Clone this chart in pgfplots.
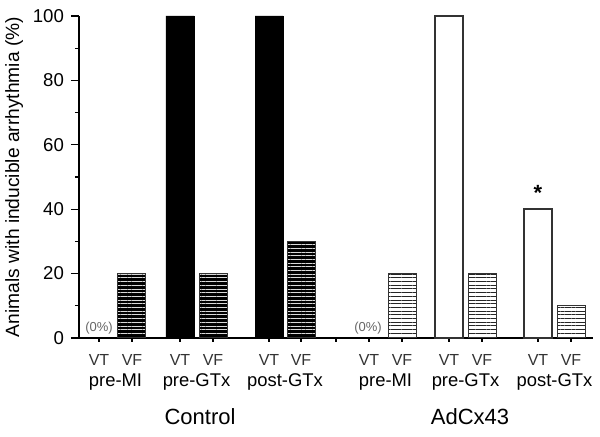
\documentclass[border=0pt]{standalone}
\usepackage{pgfplots}
\pgfplotsset{compat=1.18}
\usepackage{fontspec}
\setmainfont{Liberation Sans}
\usetikzlibrary{patterns.meta}
\definecolor{tick}{HTML}{333333}
\definecolor{zero}{HTML}{666666}

\begin{document}
\begin{tikzpicture}
\useasboundingbox (-39.5pt,-49.5pt) rectangle (260.5pt,169pt);
\begin{axis}[scale only axis,width=257pt,height=161pt,
 xmin=79,xmax=593,ymin=0,ymax=100,
 axis x line=bottom,axis y line=left,axis line style={-,line width=0.6pt},
 ybar,bar width=28,bar shift=0pt,
 ytick={0,20,...,100},minor y tick num=1,
 tick align=outside,major tick length=4pt,minor tick length=2pt,
 tick style={line width=0.6pt,black},
 xtick style={/pgfplots/major tick length=2pt},
 xtick={99,132,180,213,269,301,369,402,449,482,538,571},
 xticklabels={VT,VF,VT,VF,VT,VF,VT,VF,VT,VF,VT,VF},
 extra x ticks={336},extra x tick labels={},
 extra x tick style={/pgfplots/major tick length=5pt},
 x tick label style={font=\fontsize{8}{9}\selectfont,text=tick,yshift=-0.5pt},
 y tick label style={font=\fontsize{9.3}{10}\selectfont},
 /pgf/number format/assume math mode=true,
 ylabel={Animals with inducible arrhythmia (\%)},
 ylabel style={font=\fontsize{9.6}{10}\selectfont,yshift=-2pt},
 clip=false]
% Control VT
\addplot[fill=black,draw=black,line width=0.4pt] coordinates {(180,100)(269,100)};
% Control VF
\addplot[draw=tick,line width=0.5pt,fill=black,
 postaction={pattern={Lines[angle=0,distance=1.85pt,line width=0.45pt]},pattern color=white!70!gray}]
 coordinates {(132,20)(213,20)(301,30)};
% AdCx43 VT
\addplot[fill=white,draw=tick,line width=0.75pt] coordinates {(449,100)(538,40)};
% AdCx43 VF
\addplot[draw=tick,line width=0.5pt,
 pattern={Lines[angle=0,distance=1.85pt,line width=0.5pt]},pattern color=black!85]
 coordinates {(402,20)(482,20)(571,10)};
\node[font=\fontsize{6.5}{7}\selectfont,text=zero] at (axis cs:99,3) {(0\%)};
\node[font=\fontsize{6.5}{7}\selectfont,text=zero] at (axis cs:368,3) {(0\%)};
\node[font=\bfseries\fontsize{11}{12}\selectfont] at (axis cs:538,45) {*};
\foreach \x/\t in {115.5/pre-MI,196.5/pre-GTx,285/post-GTx,385.5/pre-MI,465.5/pre-GTx,554.5/post-GTx}
 {\edef\tmp{\noexpand\node[font=\noexpand\fontsize{9.2}{10}\noexpand\selectfont] at (axis cs:\x,0) [yshift=-22pt] {\t};}\tmp}
\node[font=\fontsize{11}{12}\selectfont] at (axis cs:200,0) [yshift=-39.5pt] {Control};
\node[font=\fontsize{11}{12}\selectfont] at (axis cs:470,0) [yshift=-39.5pt] {AdCx43};
\end{axis}
\end{tikzpicture}
\end{document}
